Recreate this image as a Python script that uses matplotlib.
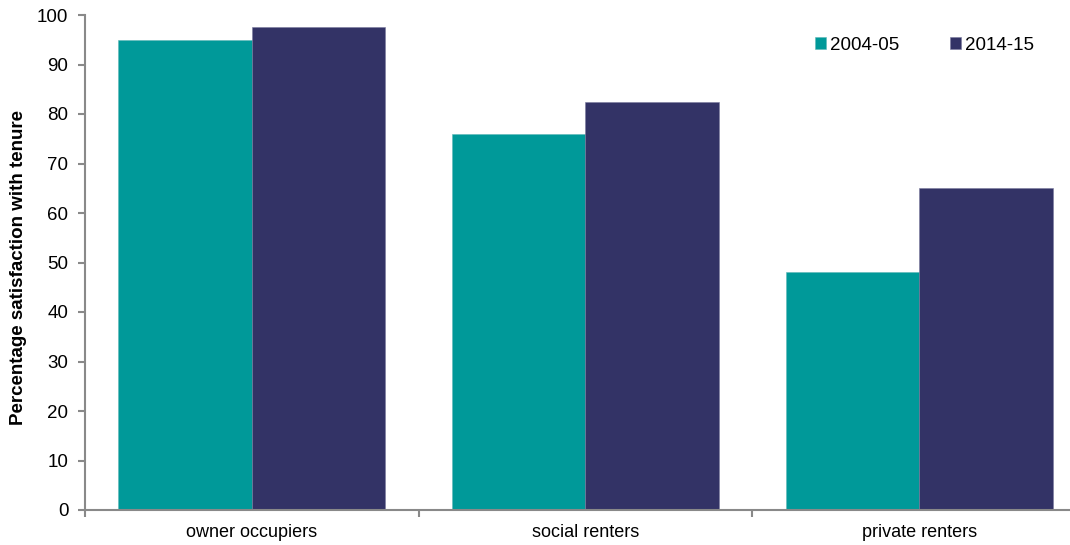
import matplotlib.pyplot as plt
import numpy as np

plt.rcParams["font.family"] = ["Liberation Sans", "DejaVu Sans"]

categorias = ["owner occupiers", "social renters", "private renters"]
series = ["2004-05", "2014-15"]
valores_2004 = [95, 76, 48]
valores_2014 = [97.5, 82.5, 65]

cor_2004 = "#009999"
cor_2014 = "#333366"
cinza = "#898989"

fig = plt.figure(figsize=(10.7, 5.45), dpi=100)
ax = fig.add_axes([85 / 1070, 35 / 545, 1001 / 1070, 495 / 545])

x = np.arange(len(categorias))
largura = 0.4
ax.bar(x - largura / 2, valores_2004, largura, color=cor_2004, label=series[0],
       edgecolor="#5fb8b8", linewidth=0.4)
ax.bar(x + largura / 2, valores_2014, largura, color=cor_2014, label=series[1],
       edgecolor="#7a7a9e", linewidth=0.4)

ax.set_xlim(-0.5, len(categorias) - 0.5)
ax.set_ylim(0, 100)
ax.set_yticks(range(0, 101, 10))
ax.set_xticks(np.arange(-0.5, len(categorias), 1.0))
ax.set_xticklabels([])
ax.set_xticks(x, minor=True)
ax.set_xticklabels(categorias, minor=True)
ax.tick_params(axis="x", which="major", length=5, width=1.5, color=cinza, direction="out")
ax.tick_params(axis="x", which="minor", length=0, pad=10, labelsize=13)
ax.tick_params(axis="y", length=5, width=1.5, color=cinza, labelsize=13.5, pad=7)

for lado in ["top", "right"]:
    ax.spines[lado].set_visible(False)
for lado in ["left", "bottom"]:
    ax.spines[lado].set_color(cinza)
    ax.spines[lado].set_linewidth(1.5)

ax.set_ylabel("Percentage satisfaction with tenure", fontweight="bold", fontsize=13.5)
ax.yaxis.set_label_coords(-58 / 1001, 0.49)

fig.legend(loc="upper left", bbox_to_anchor=(798 / 1070, 1 - 20 / 545), ncol=2, frameon=False,
           handlelength=0.6, handleheight=0.6, handletextpad=0.2, columnspacing=2.7,
           fontsize=13.5)

fig.savefig("out.png", dpi=100)
plt.close(fig)
